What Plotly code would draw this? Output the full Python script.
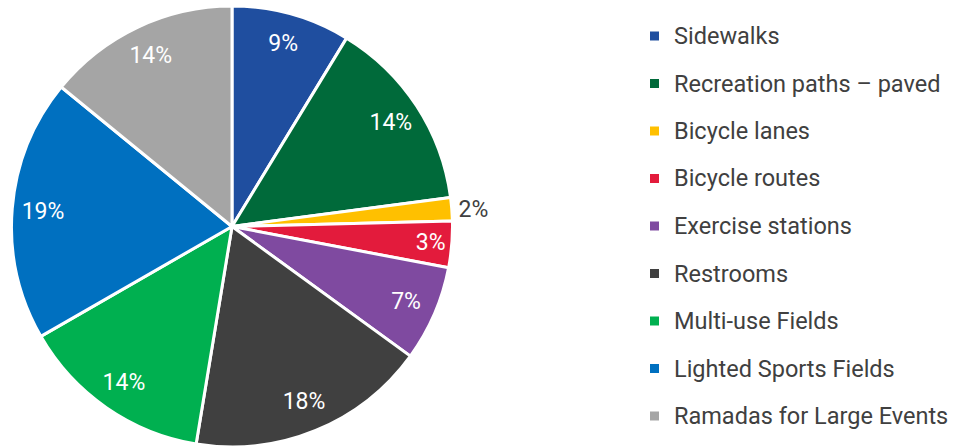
import plotly.graph_objects as go

categories = ["Sidewalks", "Recreation paths – paved", "Bicycle lanes", "Bicycle routes",
              "Exercise stations", "Restrooms", "Multi-use Fields", "Lighted Sports Fields",
              "Ramadas for Large Events"]
shares = [8.7, 14.2, 1.7, 3.4, 7.0, 17.6, 14.1, 19.2, 14.1]
colors = ["#1F4E9F", "#006A3A", "#FFC000", "#E31B3C", "#7F4AA0",
          "#404040", "#00B050", "#0070C0", "#A5A5A5"]
text_pos = ["inside", "inside", "outside", "inside", "inside", "inside", "inside", "inside", "inside"]
text_col = ["white", "white", "#404040", "white", "white", "white", "white", "white", "white"]

FONT = "Roboto, Arial, sans-serif"
W, H = 960, 455
dom_x = [11.5 / W, 452.5 / W]
dom_y = [(H - 447.0) / H, (H - 6.0) / H]

fig = go.Figure()
# main pie
fig.add_trace(go.Pie(
    labels=categories, values=shares, sort=False, direction="clockwise", rotation=0,
    marker=dict(colors=colors, line=dict(color="white", width=3)),
    textinfo="none", hoverinfo="label+percent", showlegend=False,
    domain=dict(x=dom_x, y=dom_y),
))
# transparent ring carrying the percentage labels near the rim
fig.add_trace(go.Pie(
    labels=categories, values=shares, sort=False, direction="clockwise", rotation=0,
    hole=0.72,
    marker=dict(colors=["rgba(0,0,0,0)"] * len(categories), line=dict(width=0)),
    texttemplate="%{percent:.0%}", textposition=text_pos,
    insidetextorientation="horizontal",
    textfont=dict(family=FONT, size=23, color=text_col),
    outsidetextfont=dict(family=FONT, size=23, color="#404040"),
    hoverinfo="skip", showlegend=False,
    domain=dict(x=dom_x, y=dom_y),
))

# legend drawn as squares + text
shapes = []
annotations = []
top_px, step_px = 36.0, 47.5
for i, (name, col) in enumerate(zip(categories, colors)):
    yc = 1 - (top_px + i * step_px) / H
    half = 4.5 / H
    shapes.append(dict(type="rect", xref="paper", yref="paper",
                       x0=650 / W, x1=659 / W, y0=yc - half, y1=yc + half,
                       fillcolor=col, line=dict(width=0)))
    annotations.append(dict(text=name, xref="paper", yref="paper", x=672 / W, y=yc,
                            xanchor="left", yanchor="middle", showarrow=False,
                            font=dict(family=FONT, size=23.5, color="#404040")))

fig.update_layout(
    width=W, height=H, margin=dict(l=0, r=0, t=0, b=0),
    paper_bgcolor="white", plot_bgcolor="white",
    shapes=shapes, annotations=annotations,
    font=dict(family=FONT),
    uniformtext=dict(minsize=23, mode="show"),
)

fig.write_html("out.html", config={"displayModeBar": False},
               post_script="document.body.style.margin='0';")
